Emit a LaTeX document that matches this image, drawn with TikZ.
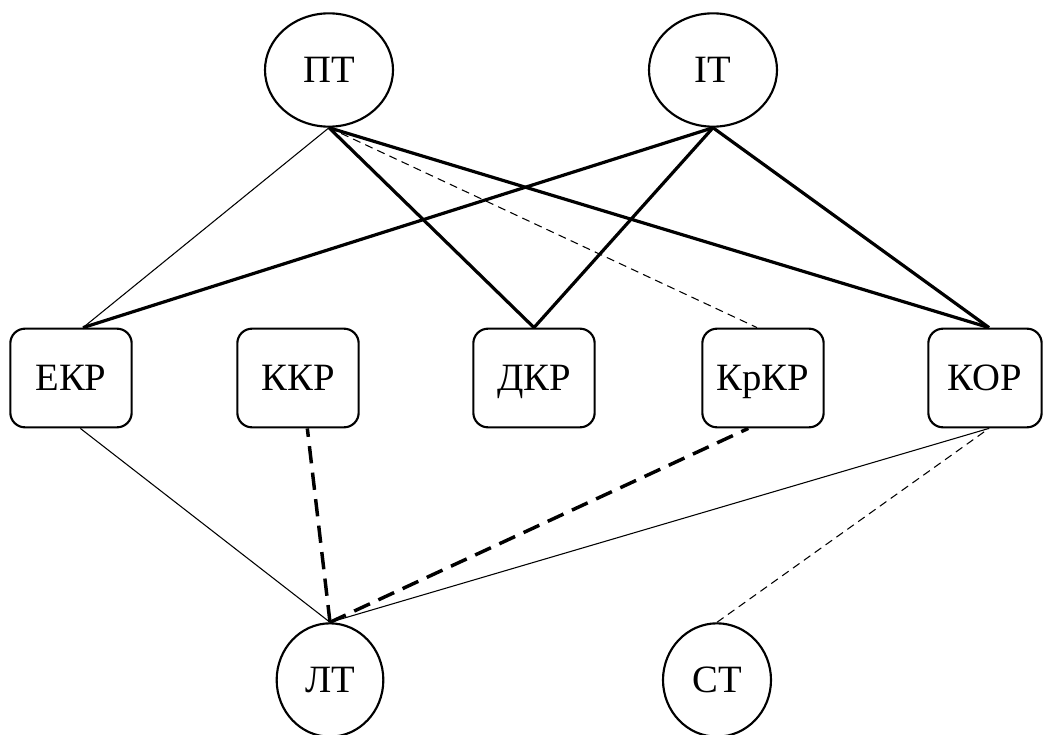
\documentclass[tikz,border=0pt]{standalone}
\usepackage{fontspec}
\setmainfont{Liberation Serif}
\usetikzlibrary{shapes.geometric}
\begin{document}
\begin{tikzpicture}[x=0.75pt,y=-0.75pt,
  lbl/.style={font=\fontsize{29}{32}\selectfont,text height=19pt,text depth=0pt},
  circ/.style={ellipse,draw,line width=1.6pt,inner sep=0pt,minimum width=96pt,minimum height=85pt,lbl},
  box/.style={rectangle,rounded corners=11pt,draw,line width=1.6pt,inner sep=0pt,minimum width=91pt,minimum height=74pt,lbl},
  thin/.style={line width=0.8pt},
  bold/.style={line width=2.4pt},
  thindash/.style={line width=0.8pt,dash pattern=on 6pt off 4pt},
  bolddash/.style={line width=2.6pt,dash pattern=on 13pt off 7pt}]
\useasboundingbox (0,0) rectangle (1043,735);
\node[circ] (pt) at (329,70) {ПТ};
\node[circ] (it) at (713,70) {ІТ};
\node[box] (ekr) at (71,378) {ЕКР};
\node[box] (kkr) at (298,378) {ККР};
\node[box] (dkr) at (534,378) {ДКР};
\node[box] (krkr) at (763,378) {КрКР};
\node[box,minimum width=85pt] (kor) at (985,378) {КОР};
\node[circ,minimum width=80pt] (lt) at (330,680) {ЛТ};
\node[circ,minimum width=81pt] (st) at (717,680) {СТ};
% top connections
\draw[thin] (pt.south) -- ([xshift=9pt]ekr.north);
\draw[bold] (pt.south) -- (dkr.north);
\draw[thindash] (pt.south) -- ([xshift=-4.5pt]krkr.north);
\draw[bold] (pt.south) -- ([xshift=3pt]kor.north);
\draw[bold] (it.south) -- ([xshift=9pt]ekr.north);
\draw[bold] (it.south) -- (dkr.north);
\draw[bold] (it.south) -- ([xshift=3pt]kor.north);
% bottom connections
\draw[thin] (lt.north) -- ([xshift=7pt]ekr.south);
\draw[bolddash] (lt.north) -- ([xshift=7pt]kkr.south);
\draw[bolddash] (lt.north) -- ([xshift=-11pt]krkr.south);
\draw[thin] (lt.north) -- ([xshift=3pt]kor.south);
\draw[thindash] (st.north) -- ([xshift=3pt]kor.south);
\end{tikzpicture}
\end{document}
